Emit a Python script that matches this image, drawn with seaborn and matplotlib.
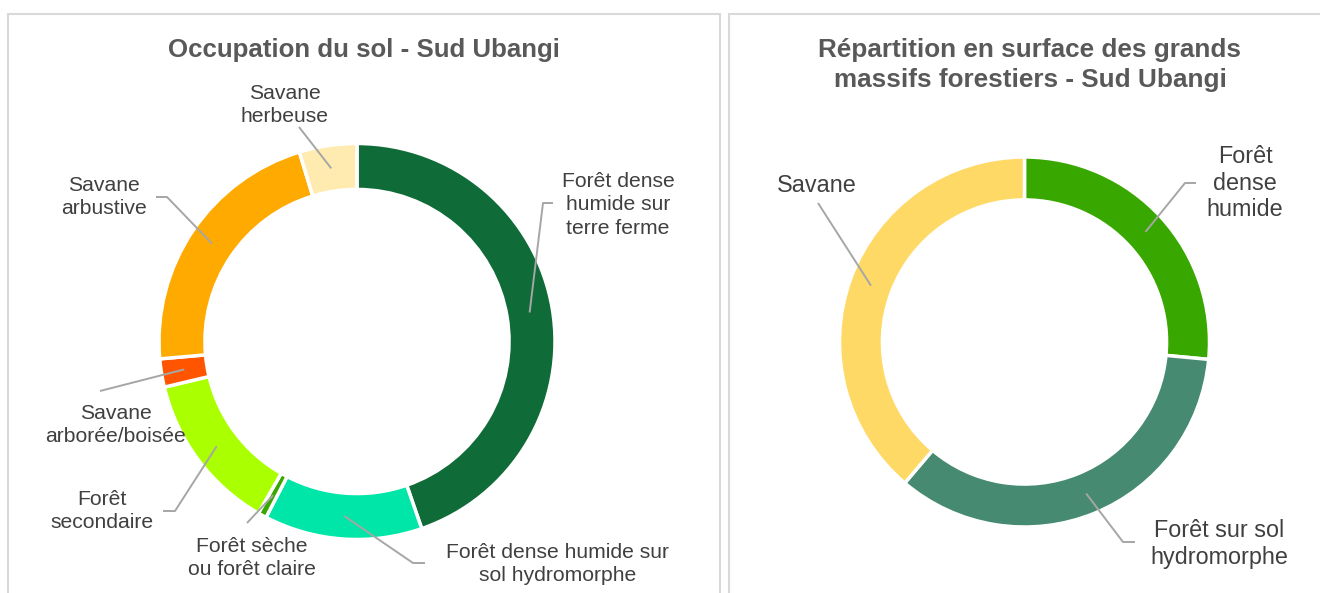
import numpy as np
import matplotlib
matplotlib.use("Agg")
import matplotlib.pyplot as plt
from matplotlib.patches import Rectangle
import seaborn as sns

# ---------------- data ----------------
left_title = "Occupation du sol - Sud Ubangi"
left_labels = ["Forêt dense\nhumide sur\nterre ferme",
               "Forêt dense humide sur\nsol hydromorphe",
               "Forêt sèche\nou forêt claire",
               "Forêt\nsecondaire",
               "Savane\narborée/boisée",
               "Savane\narbustive",
               "Savane\nherbeuse"]
left_values = [44.7, 12.9, 0.7, 13.0, 2.3, 21.7, 4.7]
left_colors = ["#0F6B37", "#00E6A8", "#38A800", "#AAFF00", "#FF5500", "#FFAA00", "#FFEBAF"]

right_title = "Répartition en surface des grands\nmassifs forestiers - Sud Ubangi"
right_labels = ["Forêt\ndense\nhumide", "Forêt sur sol\nhydromorphe", "Savane"]
right_values = [26.5, 34.7, 38.8]
right_colors = ["#38A800", "#468A72", "#FFD966"]

# ---------------- layout (pixel coords, y from top) ----------------
W, H = 1320, 593
L_center, L_R = (357, 341.5), 198
R_center, R_R = (1024.5, 342), 185
ring_frac = 0.232

# text position, elbow point, end of horizontal tick (None = no tick)
left_layout = [((618, 205), (543, 203), (553, 203)),
               ((558, 564), (413, 563), (425, 563)),
               ((252, 558), (247, 523), None),
               ((102, 511), (175, 511), (163, 511)),
               ((116, 425), (100, 391), None),
               ((104, 197), (167, 197), (156, 197)),
               ((285, 105), (299, 127), None)]
right_layout = [((1245, 183), (1185, 183), (1196, 183)),
                ((1219, 544), (1123, 542), (1135, 542)),
                ((817, 186), (818, 203), None)]

sns.set_theme(style="white")
plt.rcParams["font.family"] = ["Liberation Sans", "DejaVu Sans"]

fig = plt.figure(figsize=(W / 100, H / 100), dpi=100)
ax = fig.add_axes([0, 0, 1, 1])

def Y(y):
    return H - y

# panel borders
border = "#D9D9D9"
ax.add_patch(Rectangle((8, Y(600)), 712, 600 - 13.5, fill=False, ec=border, lw=1.5))
ax.add_patch(Rectangle((728.5, Y(600)), 700, 600 - 13.5, fill=False, ec=border, lw=1.5))

line_col = "#A6A6A6"
text_col = "#404040"

def donut(values, colors, labels, layout, center, R, fs, ls):
    cx, cy = center
    w = R * ring_frac
    wedges, _ = ax.pie(values, colors=colors, radius=R, center=(cx, Y(cy)),
                       startangle=90, counterclock=False, frame=True,
                       wedgeprops=dict(width=w, edgecolor="white", linewidth=2.5))
    rmid = R - w / 2
    for wdg, lab, (tpos, elbow, tick) in zip(wedges, labels, layout):
        ang = np.deg2rad((wdg.theta1 + wdg.theta2) / 2)
        ax0 = cx + rmid * np.cos(ang)
        ay0 = Y(cy) + rmid * np.sin(ang)
        xs = [ax0, elbow[0]]
        ys = [ay0, Y(elbow[1])]
        if tick is not None:
            xs.append(tick[0])
            ys.append(Y(tick[1]))
        ax.plot(xs, ys, color=line_col, lw=1.4, solid_capstyle="butt", zorder=5)
        ax.text(tpos[0], Y(tpos[1]), lab, ha="center", va="center", fontsize=fs,
                color=text_col, linespacing=ls, zorder=6)

donut(left_values, left_colors, left_labels, left_layout, L_center, L_R, 15.2, 1.32)
donut(right_values, right_colors, right_labels, right_layout, R_center, R_R, 16.8, 1.22)

ax.text(364, Y(50), left_title, ha="center", va="center", fontsize=18.6,
        fontweight="bold", color="#595959")
ax.text(1030, Y(65), right_title, ha="center", va="center", fontsize=18.8,
        fontweight="bold", color="#595959", linespacing=1.28)

ax.set_xlim(0, W)
ax.set_ylim(0, H)
ax.set_aspect("equal")
ax.axis("off")

fig.savefig("out.png", dpi=100, facecolor="white")
